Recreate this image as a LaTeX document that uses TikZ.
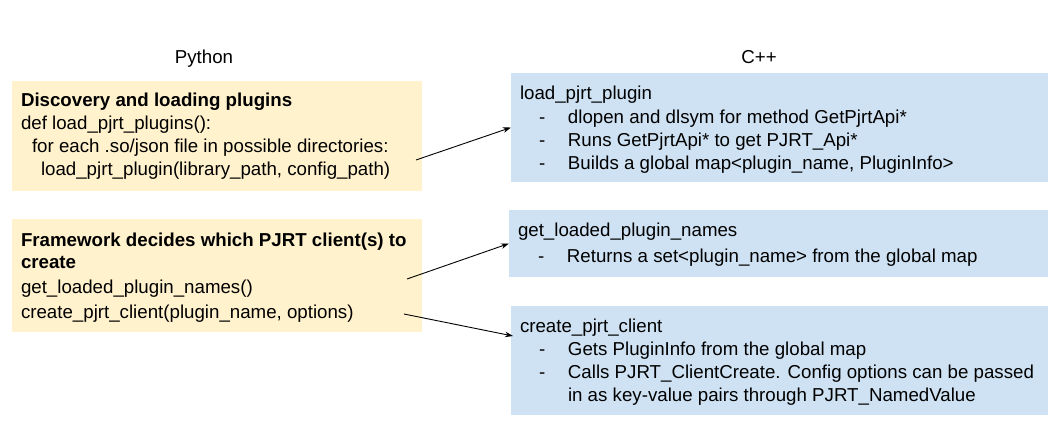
\documentclass[tikz,border=0pt]{standalone}
\usepackage{fontspec}
\setmainfont{Liberation Sans}
\usetikzlibrary{arrows.meta}
\definecolor{ylw}{HTML}{FFF2CC}
\definecolor{blu}{HTML}{CFE2F3}
\newcommand{\bodyfont}{\fontsize{18.7}{23}\selectfont}
\newcommand{\dashitem}[1]{\hspace*{19pt}\makebox[29pt][l]{-}#1}
\tikzset{
  ybox/.style={fill=ylw, draw=none, inner sep=0pt, outer sep=0pt, anchor=north west},
  bbox/.style={fill=blu, draw=none, inner sep=0pt, outer sep=0pt, anchor=north west},
  txt/.style={anchor=base west, inner sep=0pt, outer sep=0pt},
  head/.style={anchor=base, inner sep=0pt, font=\bodyfont},
  link/.style={line width=0.9pt, -{Stealth[length=8pt,width=5.5pt]}}
}
\begin{document}
\begin{tikzpicture}[x=1pt,y=-1pt]
\useasboundingbox (0,0) rectangle (1057,426);
% headings
\node[head] (py) at (204,63) {Python};
\node[head] (cpp) at (759,63) {C++};
% left boxes
\node[ybox, minimum width=410pt, minimum height=110pt] (lb1) at (12,81) {};
\node[ybox, minimum width=410pt, minimum height=113pt] (lb2) at (12,219) {};
% right boxes
\node[bbox, minimum width=537pt, minimum height=109pt] (rb1) at (511,73) {};
\node[bbox, minimum width=539pt, minimum height=67pt] (rb2) at (509,210) {};
\node[bbox, minimum width=537pt, minimum height=109pt] (rb3) at (511,306) {};
% left texts
\node[txt] (lt1) at (21,106) {\parbox[t]{400pt}{\bodyfont
\textbf{Discovery and loading plugins}\\
def load\_pjrt\_plugins():\\
\hspace*{11pt}for each .so/json file in possible directories:\\
\hspace*{20pt}load\_pjrt\_plugin(library\_path, config\_path)}};
\node[txt] (lt2) at (21,246) {\parbox[t]{400pt}{\fontsize{18.7}{22}\selectfont
\textbf{Framework decides which PJRT client(s) to}\\
\textbf{create}\\[3pt]
get\_loaded\_plugin\_names()\\[3pt]
create\_pjrt\_client(plugin\_name, options)}};
% right texts
\node[txt] (rt1) at (520,99) {\parbox[t]{520pt}{\bodyfont
load\_pjrt\_plugin\\[1pt]
\dashitem{dlopen and dlsym for method GetPjrtApi*}\\
\dashitem{Runs GetPjrtApi* to get PJRT\_Api*}\\
\dashitem{Builds a global map<plugin\_name, PluginInfo>}}};
\node[txt] (rt2) at (518,236) {\parbox[t]{520pt}{\bodyfont
get\_loaded\_plugin\_names\\[3pt]
\hspace*{1pt}\dashitem{Returns a set<plugin\_name> from the global map}}};
\node[txt] (rt3) at (520,332) {\parbox[t]{520pt}{\bodyfont
create\_pjrt\_client\\
\dashitem{Gets PluginInfo from the global map}\\
\dashitem{Calls PJRT\_ClientCreate. Config options can be passed}\\
\hspace*{48pt}in as key-value pairs through PJRT\_NamedValue}};
% connectors
\coordinate (s1) at (416,160);
\coordinate (s2) at (407,279);
\coordinate (s3) at (404,314);
\coordinate (e3) at (513,336);
\draw[link] (s1) -- (rb1.west);
\draw[link] (s2) -- (rb2.west);
\draw[link] (s3) -- (e3);
\end{tikzpicture}
\end{document}
